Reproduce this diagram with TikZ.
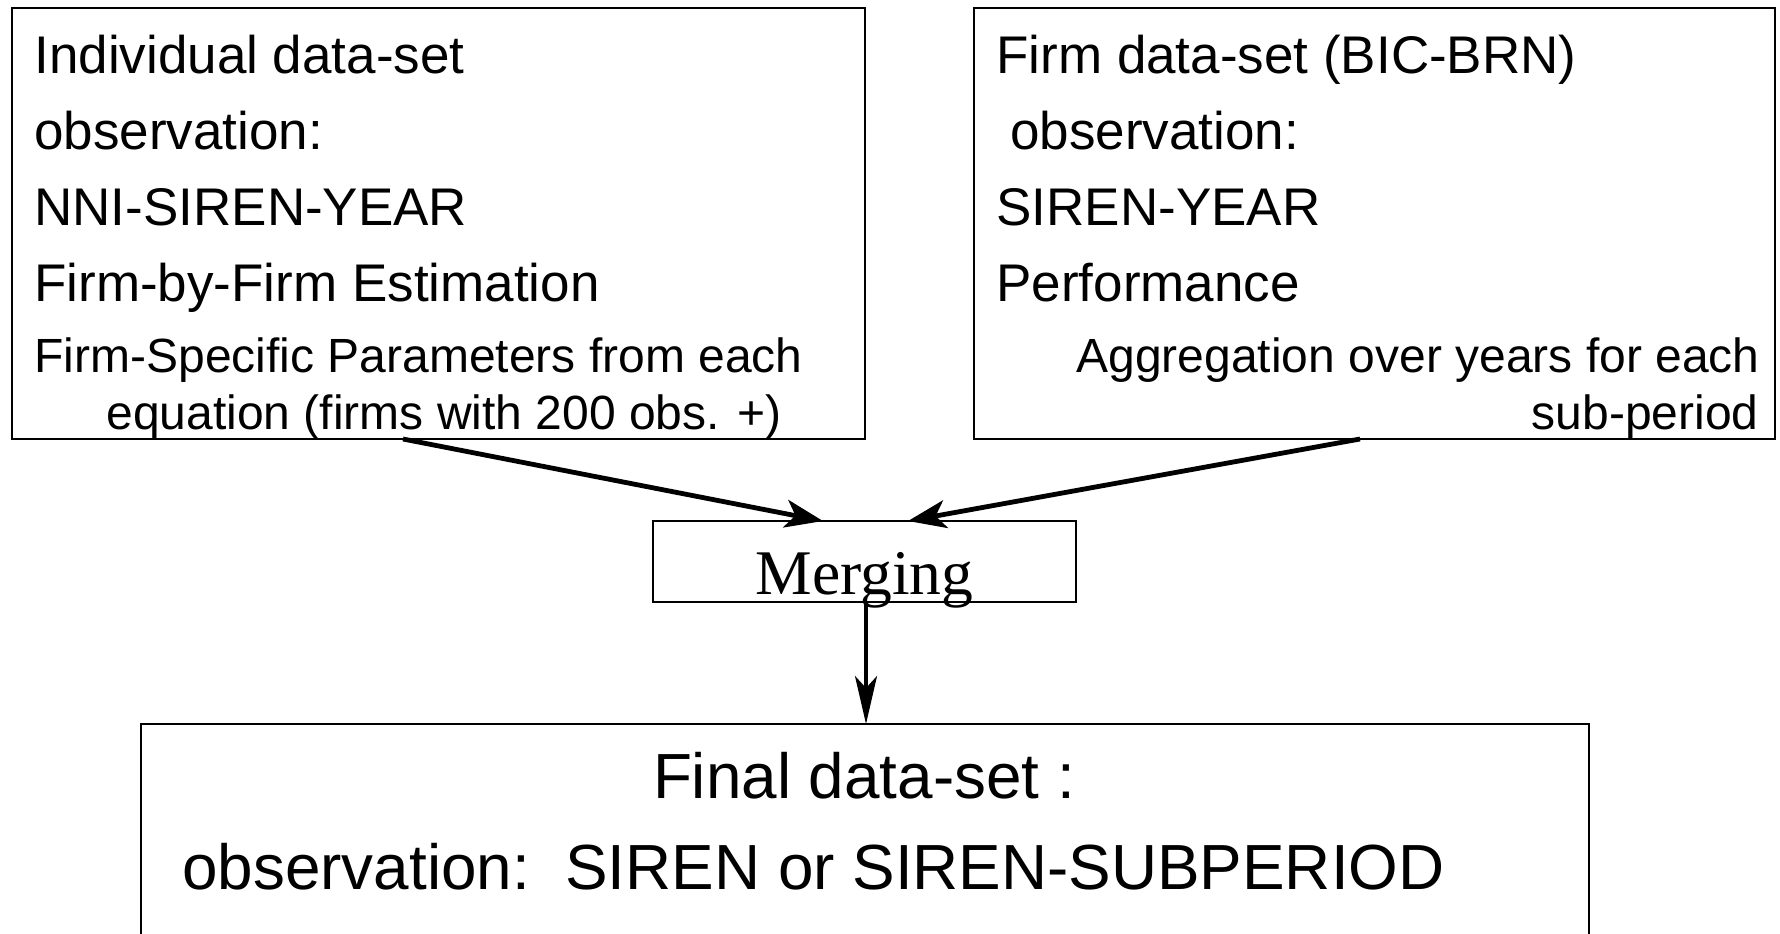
\documentclass[tikz,border=0pt]{standalone}
\usepackage{fontspec}
\setmainfont{Liberation Sans}
\newfontfamily\serifface{Liberation Serif}
\usetikzlibrary{arrows.meta,calc}
\begin{document}
\begin{tikzpicture}[x=0.5pt,y=-0.5pt,
  box/.style={draw,line width=1pt,anchor=north west,inner sep=0pt,outer sep=0pt},
  txt/.style={inner sep=0pt,anchor=base west,font=\fontsize{26.5}{30}\selectfont},
  stxt/.style={inner sep=0pt,font=\fontsize{24}{28}\selectfont},
  btxt/.style={inner sep=0pt,font=\fontsize{31.9}{36}\selectfont},
  conn/.style={line width=2.4pt,-{Stealth[length=19pt,width=14pt,inset=5pt]}},
  downconn/.style={line width=1.8pt,-{Stealth[length=24pt,width=11pt,inset=6pt]}}]
\useasboundingbox (0,0) rectangle (1780,933);
% boxes
\node[box,minimum width=426.5pt,minimum height=215.5pt] (lb) at (12,8) {};
\node[box,minimum width=400.5pt,minimum height=215.5pt] (rb) at (974,8) {};
\node[box,minimum width=211.5pt,minimum height=40.5pt] (mg) at (653,521) {};
\node[box,minimum width=724pt,minimum height=150pt] (fb) at (141,724) {};
% left box text
\node[txt] (l1) at (34,73) {Individual data-set};
\node[txt] (l2) at (34,149) {observation:};
\node[txt] (l3) at (34,225) {NNI-SIREN-YEAR};
\node[txt] (l4) at (34,301) {Firm-by-Firm Estimation};
\node[stxt,anchor=base west] (l5) at (34,372) {Firm-Specific Parameters from each};
\node[stxt,anchor=base west] (l6) at (106,429) {equation (firms with 200 obs. +)};
% right box text
\node[txt] (r1) at (996,73) {Firm data-set (BIC-BRN)};
\node[txt] (r2) at (1010,149) {observation:};
\node[txt] (r3) at (996,225) {SIREN-YEAR};
\node[txt] (r4) at (996,301) {Performance};
\node[stxt,anchor=base east] (r5) at (1760,372) {Aggregation over years for each};
\node[stxt,anchor=base east] (r6) at (1759,429) {sub-period};
% merging
\node[inner sep=0pt,anchor=base,font=\serifface\fontsize{31.8}{36}\selectfont] (mt) at (864.5,594) {Merging};
% final
\node[btxt,anchor=base] (f1) at (864,798) {Final data-set :};
\node[btxt,anchor=base west] (f2) at (182,889) {observation:\ \ SIREN or SIREN-SUBPERIOD};
% connectors
\draw[conn] ($(lb.south west)+(391,0)$) -- ($(mg.north west)+(170,0)$);
\draw[conn] ($(rb.south west)+(386,0)$) -- ($(mg.north west)+(255,0)$);
\draw[downconn] ($(mg.south west)+(213,0)$) -- ($(fb.north west)+(725,0)$);
\end{tikzpicture}
\end{document}
